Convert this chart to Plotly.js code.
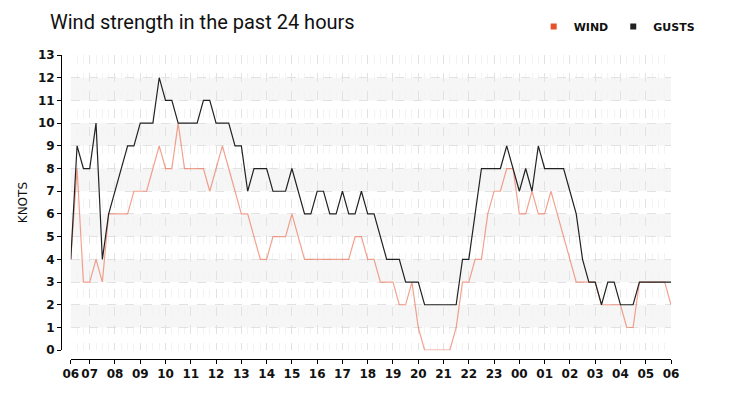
<!DOCTYPE html>
<html>
<head>
<meta charset="utf-8">
<script src="https://cdn.plot.ly/plotly-3.0.1.min.js"></script>
<style>
  html, body { margin: 0; padding: 0; background: #fff; }
  #plot { width: 732px; height: 400px; }
</style>
</head>
<body>
<div id="plot"></div>
<script>
// 15 minute readings, first one at 06:15, last one at 06:00 next morning
var startHour = 6.25;
var stepHours = 0.25;

var wind = [4,8,3,3,4,3,6,6,6,6,
            7,7,7,8,9,8,8,10,8,8,
            8,8,7,8,9,8,7,6,6,5,
            4,4,5,5,5,6,5,4,4,4,
            4,4,4,4,4,5,5,4,4,3,
            3,3,2,2,3,1,0,0,0,0,
            0,1,3,3,4,4,6,7,7,8,
            8,6,6,7,6,6,7,6,5,4,
            3,3,3,3,2,2,2,2,1,1,
            3,3,3,3,3,2];

var gusts = [4,9,8,8,10,4,6,7,8,9,
             9,10,10,10,12,11,11,10,10,10,
             10,11,11,10,10,10,9,9,7,8,
             8,8,7,7,7,8,7,6,6,7,
             7,6,6,7,6,6,7,6,6,5,
             4,4,4,3,3,3,2,2,2,2,
             2,2,4,4,6,8,8,8,8,9,
             8,7,8,7,9,8,8,8,8,7,
             6,4,3,3,2,3,3,2,2,2,
             3,3,3,3,3,3];

var tickHours = [6.25,7,8,9,10,11,12,13,14,15,16,17,18,19,20,21,22,23,24,25,26,27,28,29,30];
var tickLabels = ['06','07','08','09','10','11','12','13','14','15','16','17','18','19','20','21','22','23','00','01','02','03','04','05','06'];
var knotTicks = [0,1,2,3,4,5,6,7,8,9,10,11,12,13];

function plot_wind() {
   var plotDiv = document.getElementById('plot');
   var hours = [];
   for (var i = 0; i < wind.length; i++) {
      hours.push(startHour + i * stepHours);
   }

   var wind_trace = {
      name: 'WIND',
      x: hours,
      y: wind,
      mode: 'lines',
      showlegend: false,
      line: {width: 1.2, color: 'rgba(235,100,70,0.6)'}
   };
   var gust_trace = {
      name: 'GUSTS',
      x: hours,
      y: gusts,
      mode: 'lines',
      showlegend: false,
      line: {width: 1.2, color: '#222222'}
   };
   // legend entries only (square swatches like the original)
   var wind_key = {
      name: 'WIND', x: [null], y: [null], mode: 'markers',
      marker: {symbol: 'square', size: 6, color: '#e8502a'}
   };
   var gust_key = {
      name: 'GUSTS', x: [null], y: [null], mode: 'markers',
      marker: {symbol: 'square', size: 6, color: '#222222'}
   };

   // light bands on every other knot
   var bands = [];
   for (var k = 1; k < knotTicks.length - 1; k += 2) {
      bands.push({
         type: 'rect', xref: 'x domain', yref: 'y',
         x0: 0, x1: 1, y0: knotTicks[k], y1: knotTicks[k + 1],
         fillcolor: '#f6f6f6', line: {width: 0}, layer: 'below'
      });
   }

   var tickfont = {family: 'DejaVu Sans', size: 12, weight: 'bold', color: '#111'};

   var xaxis_layout = {
      range: [startHour, tickHours[tickHours.length - 1]],
      domain: [0.016, 1],
      anchor: 'free',
      position: 0,
      tickmode: 'array',
      tickvals: tickHours,
      ticktext: tickLabels,
      tickangle: 0,
      tickfont: tickfont,
      ticks: 'outside',
      ticklen: 4,
      tickcolor: '#000',
      showline: true,
      linecolor: '#000',
      linewidth: 1,
      showgrid: true,
      gridcolor: '#e2e2e2',
      griddash: 'dash',
      gridwidth: 1,
      zeroline: false,
      minor: {
         tickmode: 'linear',
         tick0: startHour,
         dtick: stepHours,
         showgrid: true,
         gridcolor: '#f3f3f3',
         griddash: 'dash',
         ticks: ''
      }
   };
   var yaxis_layout = {
      range: [0, 13],
      domain: [0.029, 1],
      anchor: 'free',
      position: 0,
      tickmode: 'array',
      tickvals: knotTicks,
      tickfont: tickfont,
      ticks: 'outside',
      ticklen: 4,
      tickcolor: '#000',
      showline: true,
      linecolor: '#000',
      linewidth: 1,
      showgrid: true,
      gridcolor: '#e2e2e2',
      griddash: 'dash',
      zeroline: false,
      title: {
         text: 'KNOTS',
         font: {family: 'DejaVu Sans', size: 12, color: '#111'},
         standoff: 6
      }
   };

   Plotly.newPlot(plotDiv,
      [wind_trace, gust_trace, wind_key, gust_key],
      {
         width: 732,
         height: 400,
         margin: {l: 61, r: 61, t: 50, b: 41},
         paper_bgcolor: '#ffffff',
         plot_bgcolor: '#ffffff',
         title: {
            text: 'Wind strength in the past 24 hours',
            font: {family: 'Roboto', size: 20, color: '#111'},
            x: 50 / 732,
            xref: 'container',
            xanchor: 'left',
            y: 0.945,
            yref: 'container',
            yanchor: 'middle'
         },
         xaxis: xaxis_layout,
         yaxis: yaxis_layout,
         shapes: bands,
         showlegend: true,
         legend: {
            orientation: 'h',
            x: 1.047,
            xanchor: 'right',
            y: 1.094,
            yanchor: 'middle',
            itemwidth: 30,
            font: {family: 'DejaVu Sans', size: 11, weight: 'bold', color: '#111'}
         }
      },
      {displayModeBar: false, staticPlot: true});
}
plot_wind();
</script>
</body>
</html>
